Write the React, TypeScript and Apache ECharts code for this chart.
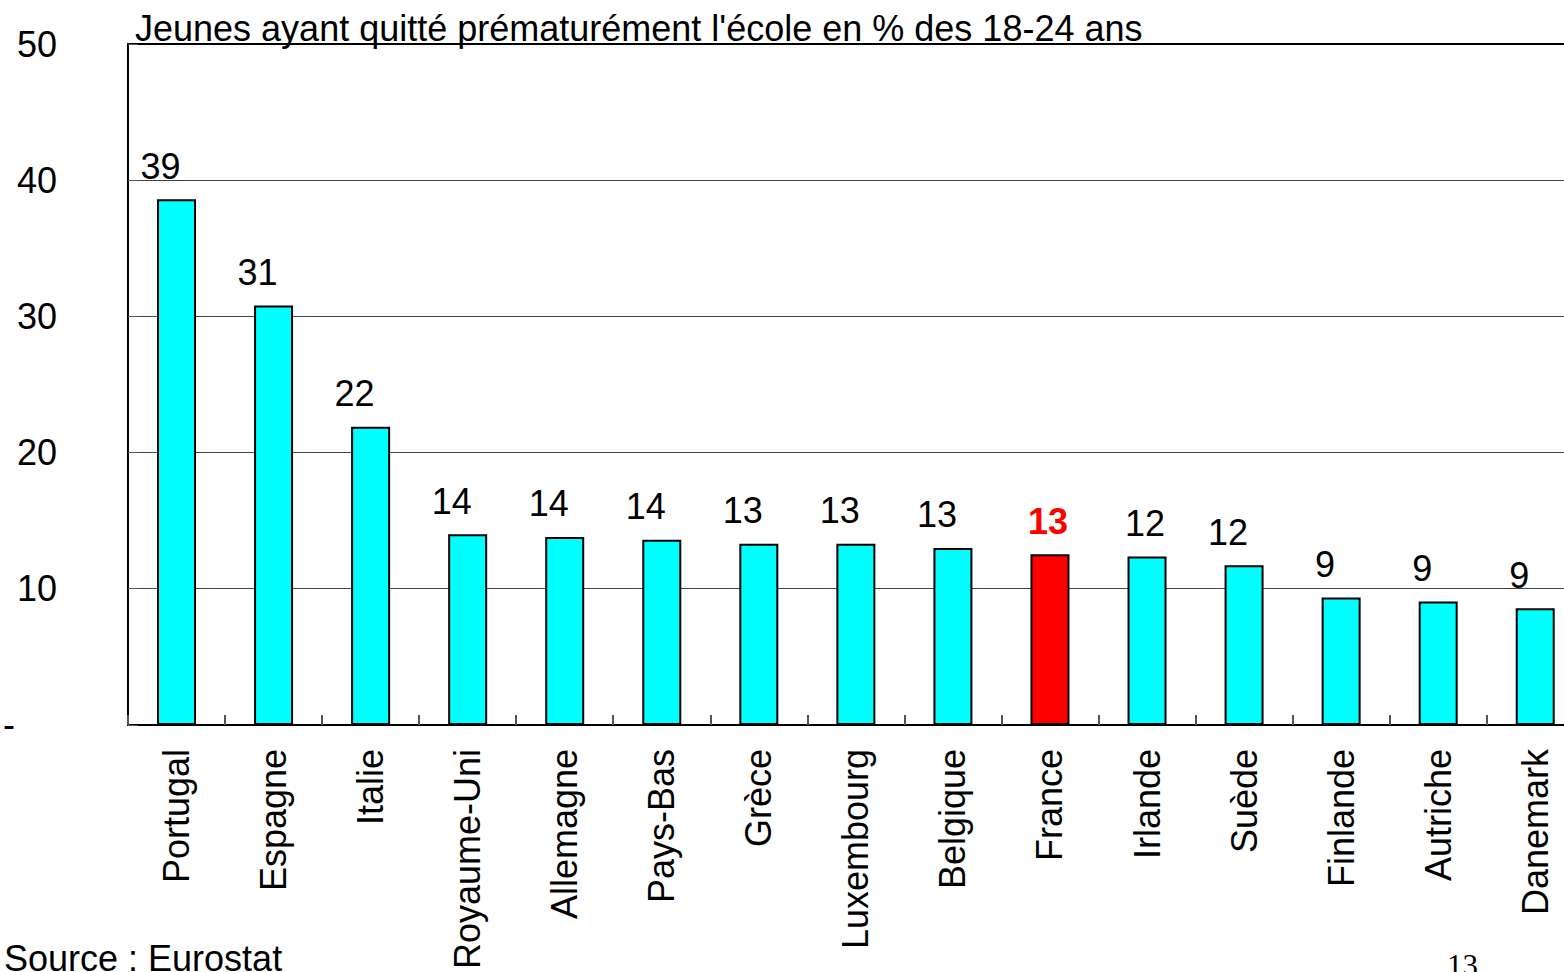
import React, { useEffect, useRef } from "react";
import * as echarts from "echarts";

const categories = [
  "Portugal", "Espagne", "Italie", "Royaume-Uni", "Allemagne", "Pays-Bas", "Grèce",
  "Luxembourg", "Belgique", "France", "Irlande", "Suède", "Finlande", "Autriche", "Danemark",
];
const values = [38.6, 30.8, 21.9, 14.0, 13.8, 13.6, 13.3, 13.3, 13.0, 12.54, 12.37, 11.73, 9.36, 9.07, 8.56];
const highlighted = "France";
const yTicks = [0, 10, 20, 30, 40, 50];
const titleText = "Jeunes ayant quitté prématurément l'école en % des 18-24 ans";
const sourceText = "Source : Eurostat";
const pageNumber = "13";

const FONT = "'Liberation Sans', Arial, sans-serif";
const CYAN = "#00FFFF";
const RED = "#FF0000";

export default function App() {
  const ref = useRef<HTMLDivElement>(null);

  useEffect(() => {
    if (!ref.current) return;
    const chart = echarts.init(ref.current, undefined, { renderer: "svg" });
    const centeredLabels: Record<string, boolean> = { France: true, Irlande: true };
    const data = categories.map((c, i) => {
      const isHi = c === highlighted;
      return {
        value: values[i],
        itemStyle: { color: isHi ? RED : CYAN },
        label: {
          offset: [centeredLabels[c] ? -2 : -16, 0],
          color: isHi ? RED : "#000",
          fontWeight: isHi ? "bold" : "normal",
        },
      };
    });
    chart.setOption({
      animation: false,
      backgroundColor: "#fff",
      textStyle: { fontFamily: FONT },
      grid: {
        left: 125,
        top: 44,
        right: 16.25,
        bottom: 246.5,
        show: true,
        borderColor: "#000",
        borderWidth: 2,
        backgroundColor: "transparent",
      },
      xAxis: {
        type: "category",
        data: categories,
        boundaryGap: true,
        axisLine: { show: false },
        axisTick: { show: true, inside: true, length: 10, lineStyle: { color: "#555", width: 2 } },
        axisLabel: {
          rotate: 90,
          interval: 0,
          margin: 24,
          fontSize: 36,
          color: "#000",
          fontFamily: FONT,
        },
      },
      yAxis: {
        type: "value",
        min: yTicks[0],
        max: yTicks[yTicks.length - 1],
        interval: 10,
        axisLine: { show: false },
        axisTick: { show: true, inside: true, length: 10, lineStyle: { color: "#555", width: 1 } },
        splitLine: { show: true, showMinLine: false, showMaxLine: false, lineStyle: { color: "#444", width: 1 } },
        axisLabel: {
          margin: 71,
          fontSize: 36,
          color: "#000",
          fontFamily: FONT,
          formatter: (v: number) => (v === 0 ? "{d|-}" : String(v)),
          rich: { d: { fontSize: 36, color: "#000", fontFamily: FONT, padding: [0, 42, 0, 0] } },
        },
      },
      series: [
        {
          type: "bar",
          data,
          barWidth: 39,
          itemStyle: { borderColor: "#000", borderWidth: 2 },
          label: {
            show: true,
            position: "top",
            distance: 15,
            fontSize: 36,
            fontFamily: FONT,
            formatter: (p: any) => String(Math.round(p.value)),
          },
        },
      ],
      graphic: [
        {
          type: "text",
          left: 135,
          top: 10,
          style: { text: titleText, fontSize: 36, fontFamily: FONT, fill: "#000" },
        },
        {
          type: "text",
          left: 4,
          top: 940,
          style: { text: sourceText, fontSize: 36, fontFamily: FONT, fill: "#000" },
        },
        {
          type: "text",
          left: 1447,
          top: 950,
          style: { text: pageNumber, fontSize: 31, fontFamily: "'Liberation Serif', 'Times New Roman', serif", fill: "#000" },
        },
      ],
    });
    return () => chart.dispose();
  }, []);

  return (
    <div style={{ position: "fixed", left: 0, top: 0, width: 1564, height: 972, overflow: "hidden", background: "#fff" }}>
      <div ref={ref} style={{ width: 1600, height: 972 }} />
    </div>
  );
}
